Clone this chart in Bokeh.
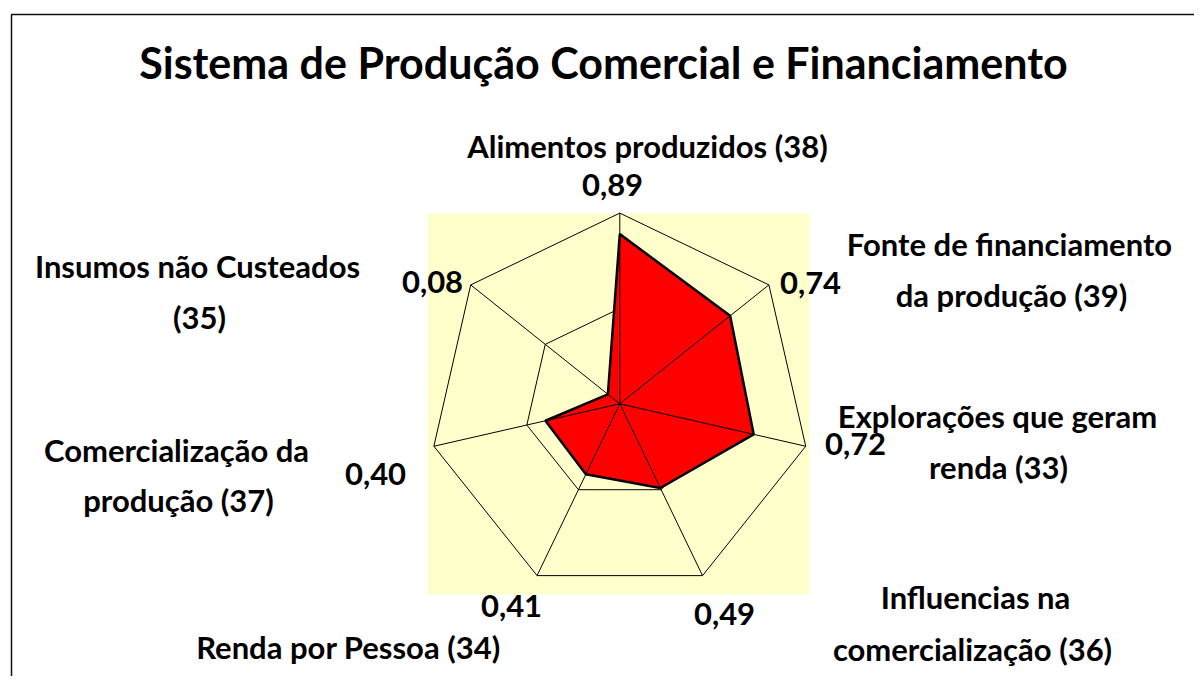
import math
from bokeh.plotting import figure
from bokeh.models import Range1d
from bokeh.core.properties import value
from bokeh.embed import file_html
from bokeh.resources import INLINE

# ---------------- data ----------------
title_text = "Sistema de Produção Comercial e Financiamento"
categories = [
    "Alimentos produzidos (38)",
    "Fonte de financiamento da produção (39)",
    "Explorações que geram renda (33)",
    "Influencias na comercialização (36)",
    "Renda por Pessoa (34)",
    "Comercialização da produção (37)",
    "Insumos não Custeados (35)",
]
# category labels as displayed, split in lines
category_lines = [
    ["Alimentos produzidos (38)"],
    ["Fonte de financiamento", "da produção (39)"],
    ["Explorações que geram", "renda (33)"],
    ["Influencias na", "comercialização (36)"],
    ["Renda por Pessoa (34)"],
    ["Comercialização da", "produção (37)"],
    ["Insumos não Custeados", "(35)"],
]
values = [0.89, 0.74, 0.72, 0.49, 0.41, 0.40, 0.08]
grid_levels = [0.5, 1.0]

# ---------------- layout (screen px) ----------------
W, H = 1194, 676
OX, OY = 0, 0                     # where the canvas lands on the screenshot
CX, CY, R = 619.3, 403.3, 190.7  # radar centre and radius on the page


def ux(px):
    return (px - CX) / R


def uy(py):
    return (CY - py) / R


# label anchor positions (page px) for each category line
category_pos = [
    [(647, 145)],
    [(1009, 243), (1011, 294)],
    [(997, 415), (998, 466)],
    [(975, 596), (972, 648)],
    [(348, 646)],
    [(176, 449), (178, 499)],
    [(197, 265), (199, 316)],
]
value_pos = [(612, 184), (810, 282), (855, 443), (724, 613), (511, 605), (375, 473), (432, 281)]

FONT = "Lato"

p = figure(width=W, height=H, output_backend="svg", toolbar_location=None,
           x_range=Range1d(ux(OX), ux(OX + W)), y_range=Range1d(uy(OY + H), uy(OY)),
           min_border=0, min_border_left=0, min_border_right=0,
           min_border_top=0, min_border_bottom=0)
p.axis.visible = False
p.xgrid.visible = False
p.ygrid.visible = False
p.outline_line_color = None
p.background_fill_color = "white"
p.border_fill_color = "white"

# frame lines of the original slide
p.line([ux(11), ux(11), ux(1210)], [uy(700), uy(14), uy(14)], line_color="#111111", line_width=1.5)

# plot area background
p.quad(left=[ux(427)], right=[ux(809)], top=[uy(213)], bottom=[uy(594)],
       fill_color="#FFFFCC", line_color=None)

n = len(values)
angles = [2 * math.pi * k / n for k in range(n)]

# rings
for lev in grid_levels:
    xs = [lev * math.sin(a) for a in angles]
    ys = [lev * math.cos(a) for a in angles]
    xs.append(xs[0])
    ys.append(ys[0])
    p.line(xs, ys, line_color="black", line_width=1)

# data polygon
dx = [v * math.sin(a) for v, a in zip(values, angles)]
dy = [v * math.cos(a) for v, a in zip(values, angles)]
p.patch(dx, dy, fill_color="#FF0000", line_color="black", line_width=2.5)

# spokes
for a in angles:
    p.line([0, max(grid_levels) * math.sin(a)], [0, max(grid_levels) * math.cos(a)],
           line_color="black", line_width=1)

# title
p.text([ux(603)], [uy(62)], text=[title_text], text_font=value(FONT), text_font_style="bold",
       text_font_size="43px", text_align="center", text_baseline="middle", text_color="black")

# category labels
lx, ly, lt = [], [], []
for lines, poss in zip(category_lines, category_pos):
    for t, (px, py) in zip(lines, poss):
        lx.append(ux(px))
        ly.append(uy(py))
        lt.append(t)
p.text(lx, ly, text=lt, text_font=value(FONT), text_font_style="bold",
       text_font_size="31px", text_align="center", text_baseline="middle", text_color="black")

# value labels
vt = [f"{v:.2f}".replace(".", ",") for v in values]
p.text([ux(px) for px, _ in value_pos], [uy(py) for _, py in value_pos], text=vt,
       text_font=value(FONT), text_font_style="bold", text_font_size="31px",
       text_align="center", text_baseline="middle", text_color="black")

open("out.html", "w").write(file_html(p, INLINE))
